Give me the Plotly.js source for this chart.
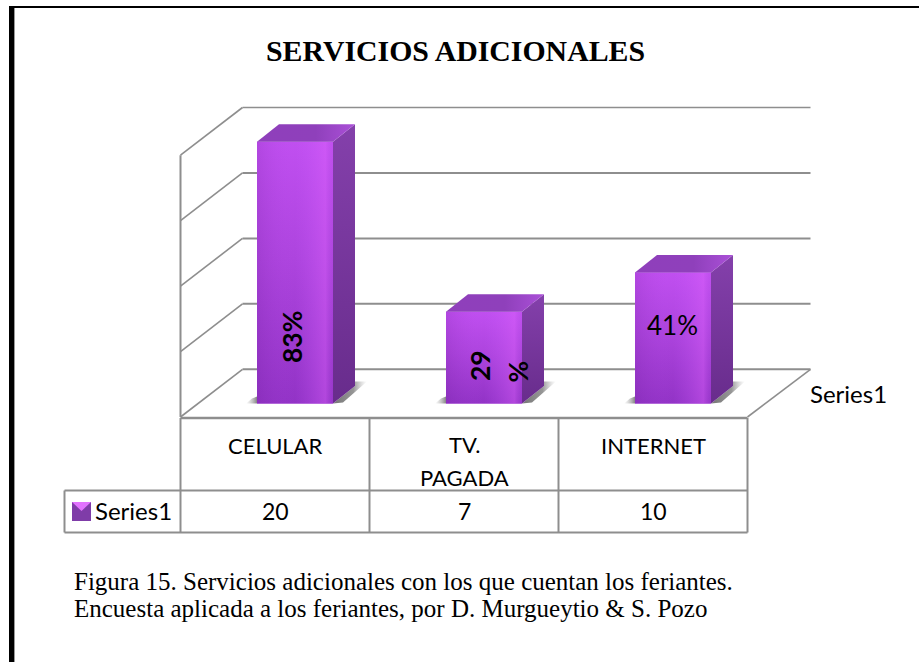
<!DOCTYPE html>
<html><head><meta charset="utf-8">
<script src="https://cdn.plot.ly/plotly-3.0.1.min.js"></script>
<style>html,body{margin:0;padding:0;background:#fff}#c{width:919px;height:662px}</style>
</head><body><div id="c"></div>
<script>
// ---- data ----
const categories = ['CELULAR', 'TV.<br>PAGADA', 'INTERNET'];
const values = [20, 7, 10];
const seriesName = 'Series1';
const gridValues = [0, 5, 10, 15, 20];
const chartTitle = 'SERVICIOS ADICIONALES';
const captionLines = ['Figura 15. Servicios adicionales con los que cuentan los feriantes.',
                      'Encuesta aplicada a los feriantes, por D. Murgueytio & S. Pozo'];

// ---- page geometry: axes span the full page, so scale factors are the only mapping ----
const W = 919, H = 662;
const pxCat = 189, pxVal = 13.09;      // pixels per category / per value unit
const x0px = 295, y0px = 403.5;        // where category 0 / value 0 falls on the page
const rx = [-x0px / pxCat, (W - x0px) / pxCat];
const ry = [(y0px - H) / pxVal, y0px / pxVal];
const ux = p => p / pxCat, uy = p => p / pxVal;   // pixel lengths → axis units
const PX = p => (p - x0px) / pxCat, PY = p => (y0px - p) / pxVal;  // page → axis

const barW = ux(76), depX = ux(22), depY = uy(17.5);
const n = categories.length, idx = categories.map((_, i) => i);

// planes of the 3-D box relative to the bars' front plane
const frontX = ux(-20), frontY = uy(-13.5);   // offset of the front edge of the floor
const backX = ux(42), backY = uy(34.2);       // offset of the back wall
const colEdge = i => i - 0.5 + frontX;

const GRID = '#8e8e8e';
const line = (x0, y0, x1, y1, w, c) => ({type: 'line', xref: 'x', yref: 'y', x0, y0, x1, y1, layer: 'below',
  line: {color: c || GRID, width: w || 2}});
const shapes = [];
gridValues.forEach(v => {
  const xl = colEdge(0);
  shapes.push(line(xl, v + frontY, xl + backX - frontX, v + backY, 1.6));
  shapes.push(line(xl + backX - frontX, v + backY, colEdge(n) + backX - frontX + ux(1), v + backY, v === 20 ? 1.5 : 2));
});
shapes.push(line(colEdge(0), frontY, colEdge(0), 20 + frontY, 2));
shapes.push(line(colEdge(n), frontY, colEdge(n) + backX - frontX + ux(1), backY, 1.6));

// table grid
const yTop = PY(418), yMid = PY(490.5), yBot = PY(532.5), xLeg = PX(64.5);
shapes.push(line(colEdge(0), yTop, colEdge(n), yTop, 2.5));
shapes.push(line(xLeg, yMid, colEdge(n), yMid, 2));
shapes.push(line(xLeg, yBot, colEdge(n), yBot, 2));
shapes.push(line(xLeg, yMid, xLeg, yBot, 2));
for (let i = 0; i <= n; i++) shapes.push(line(colEdge(i), yTop, colEdge(i), yBot, 2));

// legend key
const kx0 = PX(72), kx1 = PX(91), ky0 = PY(502), ky1 = PY(521);
shapes.push({type: 'rect', xref: 'x', yref: 'y', x0: kx0, x1: kx1, y0: ky0, y1: ky1, fillcolor: '#7f3ca8', line: {width: 0}, layer: 'below'});

// page border: top and left only, plus faint inner line
shapes.push({type: 'rect', xref: 'paper', yref: 'paper', x0: 9 / W, x1: 1, y0: 1 - 8 / H, y1: 1 - 6 / H, fillcolor: '#000', line: {width: 0}});
shapes.push({type: 'rect', xref: 'paper', yref: 'paper', x0: 9 / W, x1: 14 / W, y0: 0, y1: 1 - 6 / H, fillcolor: '#000', line: {width: 0}});
shapes.push({type: 'rect', xref: 'paper', yref: 'paper', x0: 14 / W, x1: 15 / W, y0: 0, y1: 1 - 8 / H, fillcolor: '#999', line: {width: 0}});

const traces = [];
const poly = (xs, ys, grad) => ({type: 'scatter', x: [...xs, xs[0]], y: [...ys, ys[0]], mode: 'lines', line: {width: 0},
  fill: 'toself', fillgradient: grad, hoverinfo: 'skip', showlegend: false});

// soft base shadows
idx.forEach(i => {
  const r = i + barW / 2, l = i - barW / 2;
  traces.push(poly([r, r + depX, r + depX, r + depX + ux(12), r + ux(10)],
                   [0, depY, depY + uy(4.5), depY + uy(4.5), uy(1)],
                   {type: 'horizontal', colorscale: [[0, 'rgba(70,70,70,0.75)'], [0.6, 'rgba(80,80,80,0.6)'], [1, 'rgba(150,150,150,0)']]}));
  traces.push(poly([l, l - ux(11), l - ux(5), l], [0, 0, uy(5), uy(7)],
                   {type: 'horizontal', colorscale: [[0, 'rgba(150,150,150,0)'], [1, 'rgba(80,80,80,0.7)']]}));
});

// front faces: the bars themselves
traces.push({type: 'bar', x: idx, y: values, width: barW, marker: {color: '#b047e0', line: {width: 0}},
  name: seriesName, hoverinfo: 'skip', showlegend: false});

idx.forEach(i => {
  const v = values[i], l = i - barW / 2, r = i + barW / 2;
  // vertical shading on the front face
  traces.push(poly([l, r, r, l], [0, 0, v, v],
    {type: 'vertical', colorscale: [[0, '#9233c6'], [0.55, '#ad44de'], [1, '#c04ff0']]}));
  // horizontal sheen on the front face
  traces.push(poly([l, r, r, l], [0, 0, v, v],
    {type: 'horizontal', colorscale: [[0, 'rgba(90,20,130,0.14)'], [0.5, 'rgba(200,90,255,0)'], [0.9, 'rgba(225,100,255,0.4)'], [1, 'rgba(190,80,230,0.1)']]}));
  // side face
  traces.push(poly([r, r + depX, r + depX, r], [0, depY, v + depY, v],
    {type: 'vertical', colorscale: [[0, '#682c8c'], [1, '#8440ab']]}));
  // top face
  traces.push(poly([l, r, r + depX, l + depX], [v, v, v + depY, v + depY],
    {type: 'horizontal', colorscale: [[0, '#8f3fbb'], [0.6, '#8f40bb'], [1, '#ab50d8']]}));
});

// legend key highlight
traces.push(poly([kx0, kx1, (kx0 + kx1) / 2], [ky0, ky0, ky0 - uy(9)],
  {type: 'vertical', colorscale: [[0, '#e272ff'], [1, '#e272ff']]}));

const CAL = 'Lato, Carlito, sans-serif', SERIF = '"Liberation Serif", serif';
const ann = (text, x, y, size, extra) => Object.assign({text, x, y, xref: 'x', yref: 'y', showarrow: false,
  xanchor: 'center', yanchor: 'middle', font: {family: CAL, size, color: '#000'}}, extra || {});

const annotations = [
  ann('<b>' + chartTitle + '</b>', PX(455.5), PY(50), 29.8, {font: {family: SERIF, size: 29.8, color: '#000'}}),
  ann('<b>83%</b>', PX(292), PY(337), 26.5, {textangle: -90}),
  ann('<b>29</b>', PX(480), PY(366), 26.5, {textangle: -90}),
  ann('<b>%</b>', PX(517), PY(371.5), 26.5, {textangle: -90}),
  ann('41%', PX(672), PY(324.5), 26),
  ann(seriesName, PX(848), PY(393.5), 24),
  ann(seriesName, PX(133.5), PY(510.5), 24)
];
categories.forEach((c, i) => {
  const xc = i + frontX;
  if (c.includes('<br>')) {
    c.split('<br>').forEach((t, k) => annotations.push(ann(t, xc, PY(444 + 33 * k), 22)));
  } else annotations.push(ann(c, xc, PY(445), 22));
  annotations.push(ann(String(values[i]), xc, PY(511), 23));
});
captionLines.forEach((t, k) => annotations.push(ann(t, PX(72), PY(581 + 27 * k), 25,
  {xanchor: 'left', font: {family: SERIF, size: 25, color: '#000'}})));

const hidden = {visible: false, fixedrange: true, zeroline: false, showgrid: false};
Plotly.newPlot('c', traces, {
  width: W, height: H, margin: {l: 0, r: 0, t: 0, b: 0},
  paper_bgcolor: '#fff', plot_bgcolor: '#fff', showlegend: false, barmode: 'overlay',
  xaxis: Object.assign({type: 'linear', range: rx}, hidden),
  yaxis: Object.assign({type: 'linear', range: ry}, hidden),
  shapes, annotations
}, {staticPlot: true, displayModeBar: false});
</script></body></html>
